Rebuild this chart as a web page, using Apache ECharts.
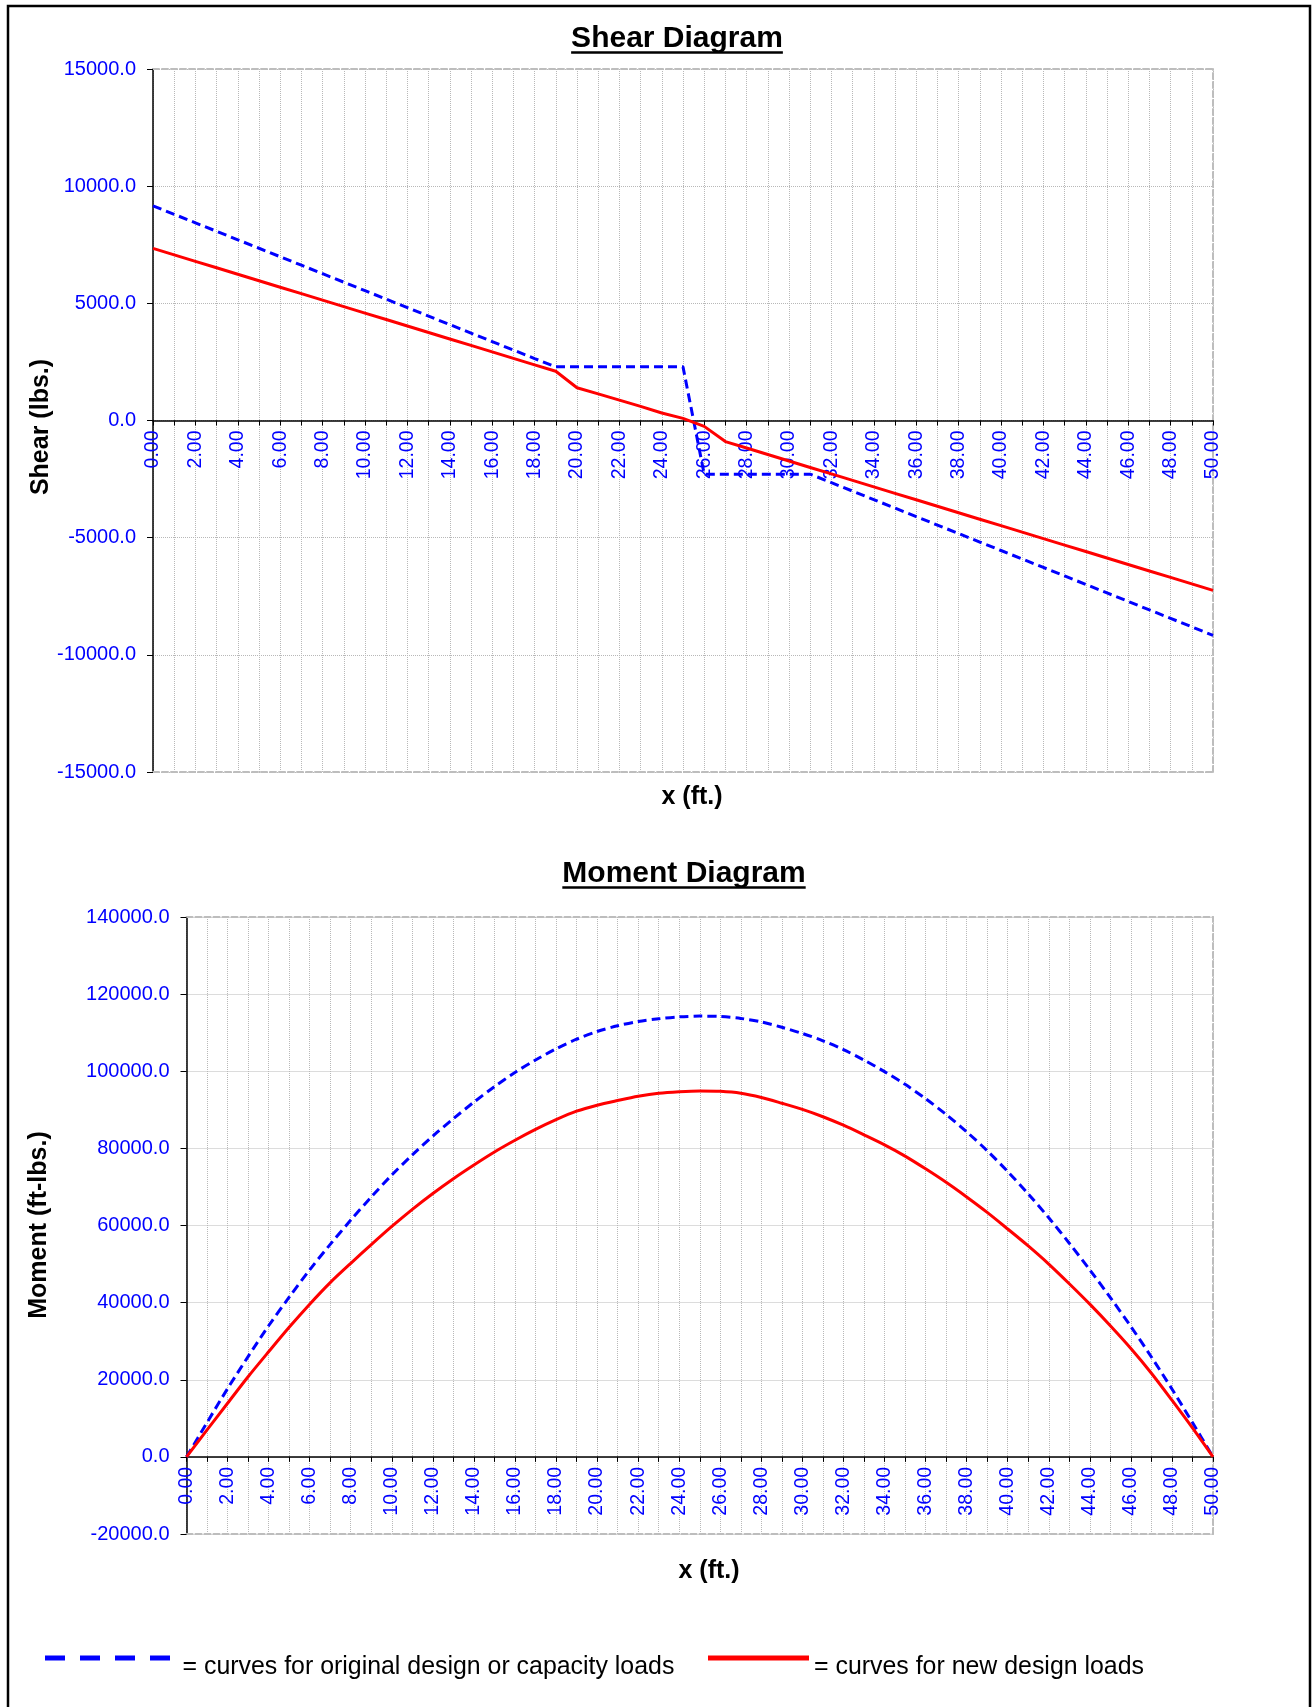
<!DOCTYPE html>
<html>
<head>
<meta charset="utf-8">
<script src="https://cdn.jsdelivr.net/npm/echarts@6/dist/echarts.min.js"></script>
<style>
html,body{margin:0;padding:0;background:#fff;}
#chart{width:1312px;height:1707px;}
</style>
</head>
<body>
<div id="chart"></div>
<script>
// ---- data ----
const xFeet = [0,1,2,3,4,5,6,7,8,9,10,11,12,13,14,15,16,17,18,19,20,21,22,23,24,25,26,27,28,29,30,31,32,33,34,35,36,37,38,39,40,41,42,43,44,45,46,47,48,49,50];

const shearOriginal = [9160,8798,8436,8074,7712,7350,6988,6626,6264,5902,5540,5178,4816,4454,4092,3730,3368,3006,2644,
  2290,2290,2290,2290,2290,2290,2290,
  -2290,-2290,-2290,-2290,-2290,-2290,
  -2652,-3014,-3376,-3738,-4100,-4462,-4824,-5186,-5548,-5910,-6272,-6634,-6996,-7358,-7720,-8082,-8444,-8806,-9168];

const shearNew = [7344,7068,6792,6516,6240,5964,5688,5412,5136,4860,4584,4308,4032,3756,3480,3204,2928,2652,2376,2100,
  1400,1135,870,605,320,90,-250,-900,
  -1176,-1452,-1728,-2004,-2280,-2556,-2832,-3108,-3384,-3660,-3936,-4212,-4488,-4764,-5040,-5316,-5592,-5868,-6144,-6420,-6696,-6972,-7250];

const momentOriginal = [0,8900,17700,26000,34000,41400,48500,55100,61400,67400,73100,78300,83200,87700,92000,96000,99700,102900,105800,108300,
  110300,111800,112900,113600,114100,114300,114200,113700,112800,111400,109800,107900,105600,102900,99900,96600,92900,88800,84300,79400,
  74000,68200,62000,55400,48500,41300,33800,25900,17600,8900,0];

const momentNew = [0,7000,13900,20770,27250,33600,39600,45200,50200,55050,59760,64200,68310,72145,75700,79070,82110,84920,87450,89650,
  91200,92400,93500,94300,94700,94900,94800,94300,93200,91700,90100,88200,86000,83500,80900,78000,74700,71200,67400,63400,
  59100,54700,50000,44900,39600,34000,28100,21700,14700,7500,0];

const shearTicks = {min: -15000, max: 15000, interval: 5000};
const momentTicks = {min: -20000, max: 140000, interval: 20000};
const xTicks = {min: 0, max: 50, interval: 1, labelStep: 2};

const nameOriginal = 'curves for original design or capacity loads';
const nameNew = 'curves for new design loads';
const titles = ['Shear Diagram', 'Moment Diagram'];
const yNames = ['Shear (lbs.)', 'Moment (ft-lbs.)'];
const xName = 'x (ft.)';

// ---- styling / layout ----
const FONT = '"Liberation Sans", Arial, Helvetica, sans-serif';
const BLUE = '#0000ff', RED = '#ff0000';
const pairs = (ys) => xFeet.map((x, i) => [x, ys[i]]);
const grids = [
  {left: 153, top: 69, width: 1060, height: 703},
  {left: 186.5, top: 917, width: 1026.5, height: 617}
];
const yTickSets = [shearTicks, momentTicks];
// distance from the grid bottom up to value 0 (x axis sits on zero)
const zeroOffset = (gi) => -grids[gi].height * (0 - yTickSets[gi].min) / (yTickSets[gi].max - yTickSets[gi].min);

function mainX(gi) {
  return {
    gridIndex: gi, type: 'value', min: xTicks.min, max: xTicks.max, interval: xTicks.interval, position: 'bottom',
    offset: zeroOffset(gi),
    axisLine: {show: true, onZero: false, lineStyle: {color: '#000', width: 1.5}},
    axisTick: {show: true, length: 5, lineStyle: {color: '#000', width: 1}},
    axisLabel: {rotate: 90, color: BLUE, fontSize: 19.5, fontFamily: FONT, margin: 10,
      formatter: v => (Math.round(v) % xTicks.labelStep === 0 ? v.toFixed(2) : '')},
    splitLine: {show: true, lineStyle: {color: '#b8b8b8', type: 'dotted', width: 1}}
  };
}
function borderX(gi, pos) {
  return {
    gridIndex: gi, type: 'value', min: xTicks.min, max: xTicks.max, position: pos,
    axisLine: {show: true, onZero: false, lineStyle: {color: '#bdbdbd', width: 2, type: [6, 3]}},
    axisTick: {show: false}, axisLabel: {show: false}, splitLine: {show: false}
  };
}
function mainY(gi, t) {
  return {
    gridIndex: gi, type: 'value', min: t.min, max: t.max, interval: t.interval, position: 'left',
    axisLine: {show: true, onZero: false, lineStyle: {color: '#000', width: 1.5}},
    axisTick: {show: true, length: 6, lineStyle: {color: '#000', width: 1}},
    axisLabel: {color: BLUE, fontSize: 20, fontFamily: FONT, margin: 17, formatter: v => v.toFixed(1)},
    splitLine: {show: true, lineStyle: {color: '#b8b8b8', type: 'dotted', width: 1}}
  };
}
function borderY(gi, t) {
  return {
    gridIndex: gi, type: 'value', min: t.min, max: t.max, interval: t.interval, position: 'right',
    axisLine: {show: true, onZero: false, lineStyle: {color: '#bdbdbd', width: 2, type: [6, 3]}},
    axisTick: {show: false}, axisLabel: {show: false}, splitLine: {show: false}
  };
}

// measure text for title underlines
const ctx = document.createElement('canvas').getContext('2d');
function textW(str, font) { ctx.font = font; return ctx.measureText(str).width; }
const titleFont = 'bold 30px ' + FONT;
const titlePos = [[677, 39], [684, 874]];
const graphics = [];
graphics.push({type: 'rect', shape: {x: 8, y: 6, width: 1302, height: 1730},
  style: {fill: 'none', stroke: '#000', lineWidth: 2.5}, silent: true});
titles.forEach((t, i) => {
  const [cx, cy] = titlePos[i];
  const w = textW(t, titleFont);
  graphics.push({type: 'text', x: cx, y: cy, style: {text: t, font: titleFont, fill: '#000', textAlign: 'center', textVerticalAlign: 'middle'}});
  graphics.push({type: 'line', shape: {x1: cx - w / 2, y1: cy + 13.5, x2: cx + w / 2, y2: cy + 13.5}, style: {stroke: '#000', lineWidth: 2.5}});
});
const nameFont = 'bold 25px ' + FONT;
[[41, 427], [39, 1225]].forEach((p, i) => {
  graphics.push({type: 'text', x: p[0], y: p[1], rotation: Math.PI / 2,
    style: {text: yNames[i], font: nameFont, fill: '#000', textAlign: 'center', textVerticalAlign: 'middle'}});
});
[[692, 797], [709, 1571]].forEach(p => {
  graphics.push({type: 'text', x: p[0], y: p[1],
    style: {text: xName, font: nameFont, fill: '#000', textAlign: 'center', textVerticalAlign: 'middle'}});
});
// key at the bottom
const keyFont = '24.9px ' + FONT;
graphics.push({type: 'line', shape: {x1: 45, y1: 1658, x2: 171, y2: 1658}, style: {stroke: BLUE, lineWidth: 5, lineDash: [20, 15]}});
graphics.push({type: 'text', x: 182.5, y: 1667, style: {text: '= ' + nameOriginal, font: keyFont, fill: '#000', textAlign: 'left', textVerticalAlign: 'middle'}});
graphics.push({type: 'line', shape: {x1: 708, y1: 1658, x2: 809, y2: 1658}, style: {stroke: RED, lineWidth: 5}});
graphics.push({type: 'text', x: 814, y: 1667, style: {text: '= ' + nameNew, font: keyFont, fill: '#000', textAlign: 'left', textVerticalAlign: 'middle'}});

const chart = echarts.init(document.getElementById('chart'), null, {renderer: 'canvas'});
chart.setOption({
  animation: false,
  backgroundColor: '#fff',
  textStyle: {fontFamily: FONT},
  grid: grids,
  xAxis: [mainX(0), borderX(0, 'top'), borderX(0, 'bottom'), mainX(1), borderX(1, 'top'), borderX(1, 'bottom')],
  yAxis: [mainY(0, shearTicks), borderY(0, shearTicks), mainY(1, momentTicks), borderY(1, momentTicks)],
  series: [
    {name: nameOriginal, type: 'line', xAxisIndex: 0, yAxisIndex: 0, data: pairs(shearOriginal), symbol: 'none',
      lineStyle: {color: BLUE, width: 3, type: [9, 5]}, itemStyle: {color: BLUE}, z: 3},
    {name: nameNew, type: 'line', xAxisIndex: 0, yAxisIndex: 0, data: pairs(shearNew), symbol: 'none',
      lineStyle: {color: RED, width: 3}, itemStyle: {color: RED}, z: 4},
    {name: nameOriginal, type: 'line', xAxisIndex: 3, yAxisIndex: 2, data: pairs(momentOriginal), symbol: 'none', smooth: 0.3,
      lineStyle: {color: BLUE, width: 3, type: [9, 5]}, itemStyle: {color: BLUE}, z: 3},
    {name: nameNew, type: 'line', xAxisIndex: 3, yAxisIndex: 2, data: pairs(momentNew), symbol: 'none', smooth: 0.3,
      lineStyle: {color: RED, width: 3}, itemStyle: {color: RED}, z: 4}
  ],
  graphic: graphics
});
</script>
</body>
</html>
